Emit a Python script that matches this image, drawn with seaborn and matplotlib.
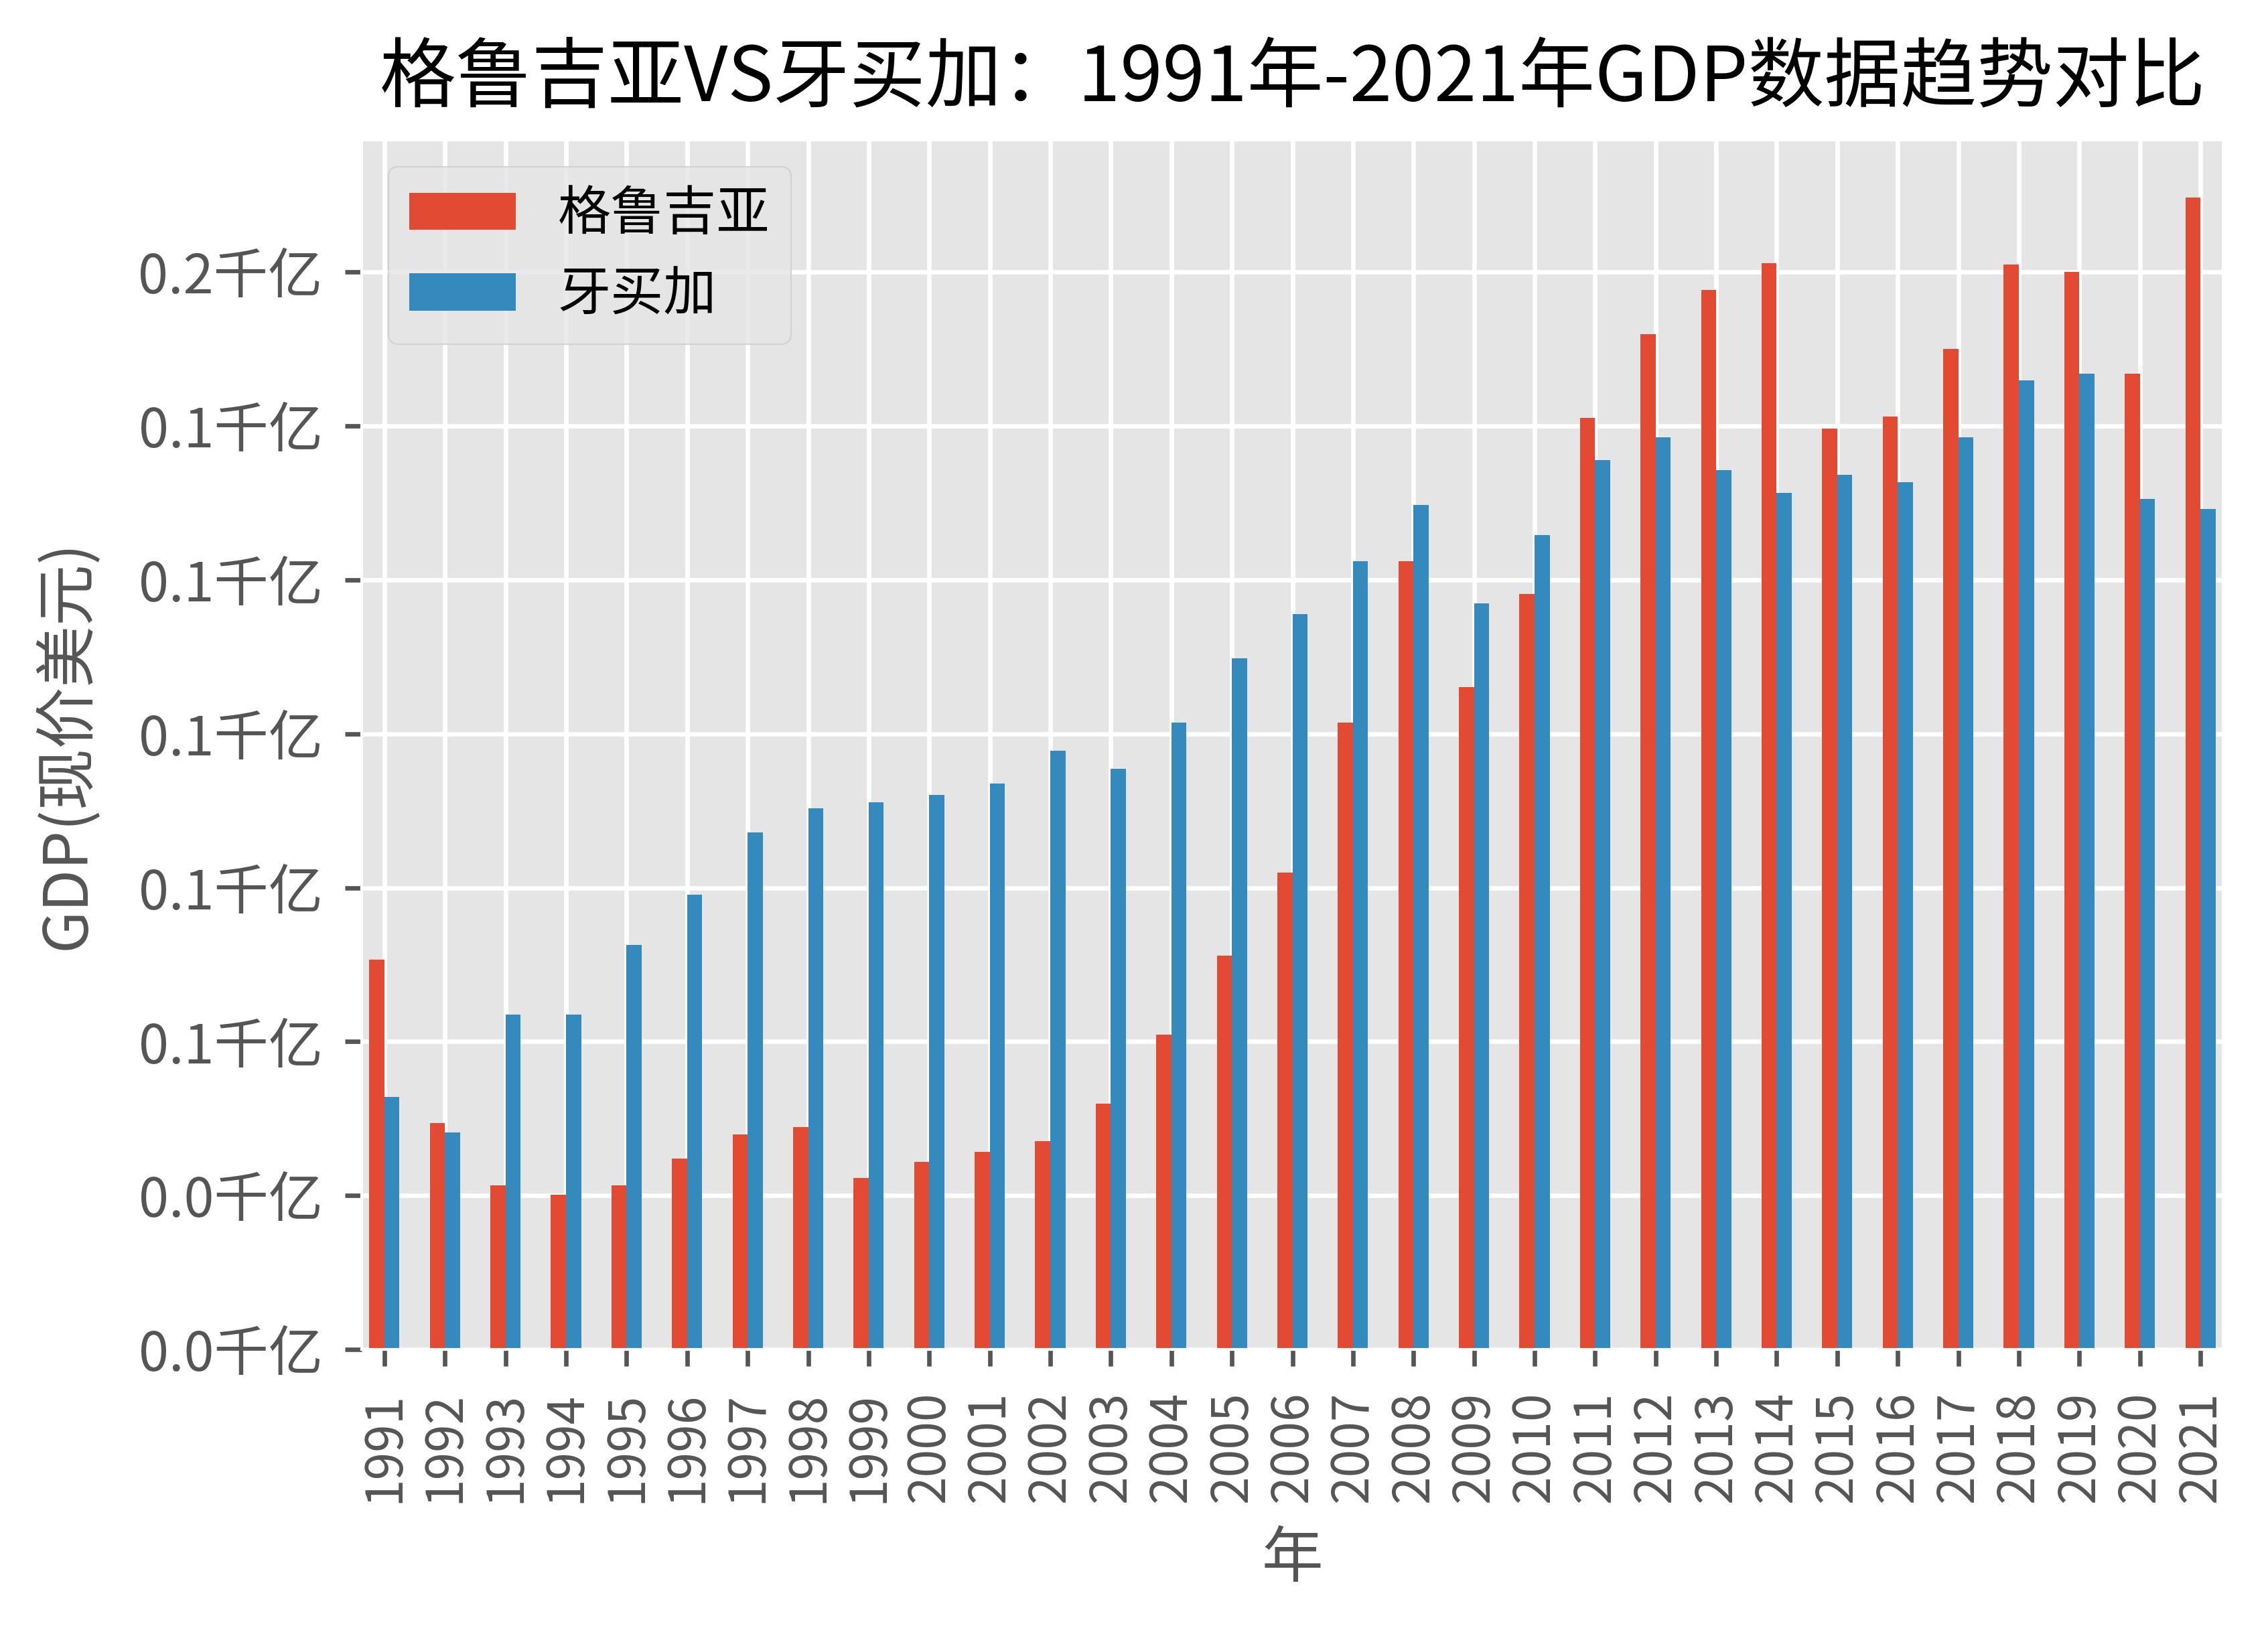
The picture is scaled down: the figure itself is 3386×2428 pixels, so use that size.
import pandas as pd
import matplotlib.pyplot as plt
import matplotlib.ticker as mticker
import seaborn as sns

years = [str(y) for y in range(1991, 2022)]
georgia = [6.33, 3.68, 2.67, 2.51, 2.67, 3.10, 3.49, 3.61, 2.79, 3.05,
           3.21, 3.38, 3.99, 5.11, 6.40, 7.74, 10.18, 12.80, 10.76, 12.27,
           15.13, 16.49, 17.21, 17.64, 14.96, 15.15, 16.25, 17.62, 17.50, 15.85,
           18.71]
jamaica = [4.10, 3.52, 5.44, 5.44, 6.57, 7.39, 8.40, 8.79, 8.89, 9.01,
           9.19, 9.73, 9.43, 10.18, 11.23, 11.94, 12.80, 13.72, 12.12, 13.23,
           14.45, 14.82, 14.28, 13.91, 14.21, 14.09, 14.82, 15.74, 15.85, 13.81,
           13.65]
countries = ['格鲁吉亚', '牙买加']
colors = ['#E24A33', '#348ABD']

df = pd.DataFrame({
    '年': years * 2,
    'GDP': [v * 1e9 for v in georgia + jamaica],
    '国家': [countries[0]] * len(years) + [countries[1]] * len(years),
})

plt.style.use('ggplot')
plt.rcParams['font.family'] = ['Noto Sans CJK SC', 'DejaVu Sans']
plt.rcParams['axes.unicode_minus'] = False

fig = plt.figure(figsize=(3386 / 300, 2428 / 300), dpi=300)
ax = fig.add_axes([540 / 3386, 1 - 2015 / 2428, 2779 / 3386, (2015 - 209) / 2428])

sns.barplot(data=df, x='年', y='GDP', hue='国家', hue_order=countries,
            palette=colors, width=0.5, saturation=1, errorbar=None,
            linewidth=0, ax=ax)

ax.set_xlim(-0.375, len(years) - 1 + 0.375)
ax.set_ylim(0, max(georgia) * 1e9 * 1.05)
ax.yaxis.set_major_locator(mticker.MultipleLocator(2.5e9))
ax.yaxis.set_major_formatter(mticker.FuncFormatter(lambda v, p: f'{v / 1e11:.1f}千亿'))
ax.grid(True, axis='both', color='white', linewidth=1.6)
ax.set_axisbelow(True)

ax.tick_params(axis='both', length=6, width=1.6, colors='#555555')
ax.tick_params(axis='x', labelsize=18, pad=9)
ax.tick_params(axis='y', labelsize=19.5, pad=8)
plt.setp(ax.get_xticklabels(), rotation=90)

ax.set_xlabel('年', fontsize=22, color='#555555', labelpad=9)
ax.set_ylabel('GDP(现价美元)', fontsize=22, color='#555555', labelpad=14)
ax.set_title('格鲁吉亚VS牙买加：1991年-2021年GDP数据趋势对比', fontsize=27.3, pad=14)

ax.legend(loc='upper left', fontsize=19, title=None, frameon=True)

plt.savefig('out.png', dpi=300)
